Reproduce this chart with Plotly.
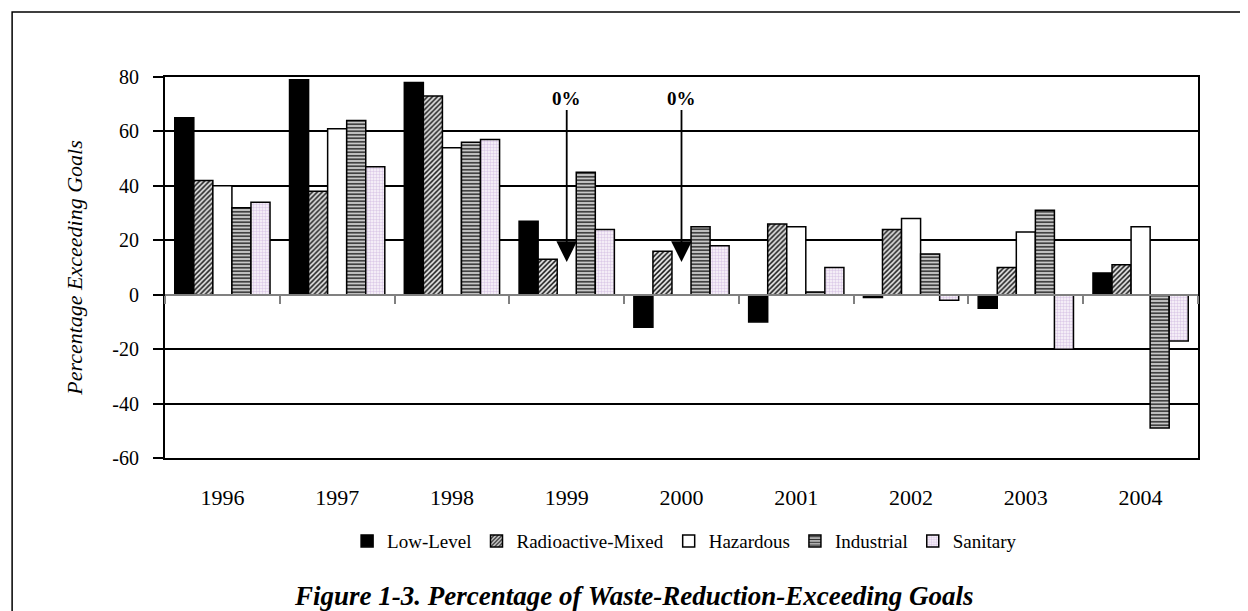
import plotly.graph_objects as go

years = ["1996", "1997", "1998", "1999", "2000", "2001", "2002", "2003", "2004"]

low_level = [65, 79, 78, 27, -12, -10, -1, -5, 8]
radioactive_mixed = [42, 38, 73, 13, 16, 26, 24, 10, 11]
hazardous = [40, 61, 54, 0, 0, 25, 28, 23, 25]
industrial = [32, 64, 56, 45, 25, 1, 15, 31, -49]
sanitary = [34, 47, 57, 24, 18, 10, -2, -20, -17]

# years with a zero bar that get a "0%" arrow
zero_years = ["1999", "2000"]

y_min, y_max = -60, 80
y_ticks = list(range(y_min, y_max + 1, 20))
serif = "Liberation Serif, Times New Roman, serif"

series = [
    ("Low-Level", low_level, dict(color="black")),
    ("Radioactive-Mixed", radioactive_mixed,
     dict(color="white", pattern=dict(shape="/", fgcolor="#1a1a1a", bgcolor="#e6e6e6",
                                      size=3.5, solidity=0.45, fillmode="replace"))),
    ("Hazardous", hazardous, dict(color="white")),
    ("Industrial", industrial,
     dict(color="#b8b8b8", pattern=dict(shape="-", fgcolor="#333333", bgcolor="#c8c8c8",
                                        size=3.5, solidity=0.45, fillmode="replace"))),
    ("Sanitary", sanitary,
     dict(color="white", pattern=dict(shape=".", fgcolor="#dccbe8", bgcolor="#fcf9fd",
                                      size=3, solidity=0.5, fillmode="replace"))),
]

fig = go.Figure()
for name, vals, marker in series:
    marker = dict(marker, line=dict(color="black", width=1.5))
    fig.add_trace(go.Bar(x=years, y=vals, name=name, marker=marker))

# helper trace so the zero-line axis has its categories
fig.add_trace(go.Scatter(x=years, y=[None] * len(years), xaxis="x2", mode="markers",
                         showlegend=False, hoverinfo="skip"))

for yr in zero_years:
    # category axis: refer to the year by its index
    fig.add_annotation(x=years.index(yr), y=12, xref="x", yref="y", text="<b>0%</b>",
                       showarrow=True, ax=0, ay=-164, arrowhead=2, arrowsize=2.3,
                       arrowwidth=1.8, arrowcolor="black",
                       font=dict(family=serif, size=19, color="black"))

# outer frame of the figure
fig.add_shape(type="rect", xref="paper", yref="paper", x0=-0.148, x1=1.2, y0=-0.6, y1=1.1706,
              line=dict(color="black", width=1.5), fillcolor="rgba(0,0,0,0)", layer="below")

cat_range = [-0.5, len(years) - 0.5]

fig.update_layout(
    width=1240, height=603,
    margin=dict(l=157, r=50, t=69, b=153),
    plot_bgcolor="white", paper_bgcolor="white",
    barmode="group", bargap=0.17, bargroupgap=0,
    font=dict(family=serif, color="black"),
    title=dict(text="<b><i>Figure 1-3. Percentage of Waste-Reduction-Exceeding Goals</i></b>",
               x=0.505, xanchor="center", y=0.026, yanchor="middle",
               font=dict(family=serif, size=27, color="black")),
    legend=dict(orientation="h", x=0.503, xanchor="center", y=-0.218, yanchor="middle",
                font=dict(family=serif, size=19), itemwidth=30, traceorder="normal"),
    xaxis=dict(type="category", range=cat_range, showgrid=False, ticks="", showline=True,
               mirror=True, linecolor="black", linewidth=2, tickfont=dict(size=22),
               ticklabelstandoff=19),
    xaxis2=dict(type="category", range=cat_range, overlaying="x", anchor="free",
                position=(0 - y_min) / (y_max - y_min), side="bottom",
                showline=True, linecolor="#808080", linewidth=2, showgrid=False,
                ticks="outside", tickson="boundaries", ticklen=8, tickcolor="#808080",
                tickwidth=1.5, showticklabels=False),
    yaxis=dict(range=[y_min, y_max], tickvals=y_ticks, ticktext=[str(v) for v in y_ticks],
               showgrid=True, gridcolor="black", gridwidth=1.5,
               zeroline=False, showline=True, mirror=True, linecolor="black", linewidth=2,
               ticks="outside", ticklen=10, tickwidth=2, tickcolor="black",
               tickfont=dict(size=20), ticklabelstandoff=10,
               title=dict(text="<i>Percentage Exceeding Goals</i>", standoff=24,
                          font=dict(family=serif, size=22))),
)

fig.write_html("out.html")
